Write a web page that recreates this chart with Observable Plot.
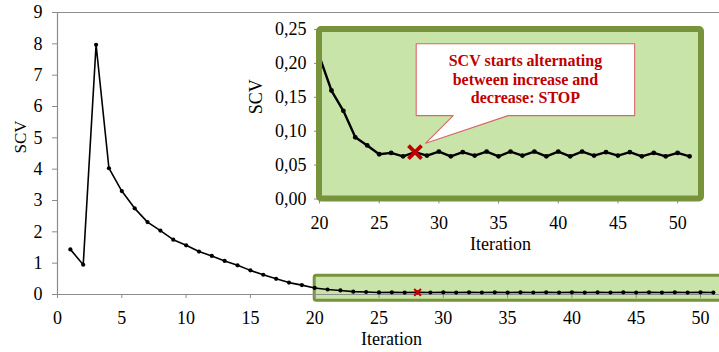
<!DOCTYPE html>
<html>
<head>
<meta charset="utf-8">
<script src="https://cdn.jsdelivr.net/npm/d3@7"></script>
<script src="https://cdn.jsdelivr.net/npm/@observablehq/plot@0.6"></script>
<style>
  html, body { margin: 0; padding: 0; background: #fff; overflow: hidden; }
  #wrap { position: relative; width: 719px; height: 352px; }
  #wrap svg { position: absolute; left: 0; top: 0; }
</style>
</head>
<body>
<div id="wrap"></div>
<script>
// ---- data ----
const iterations = [1,2,3,4,5,6,7,8,9,10,11,12,13,14,15,16,17,18,19,20,21,22,23,24,25,26,27,28,29,30,31,32,33,34,35,36,37,38,39,40,41,42,43,44,45,46,47,48,49,50,51];
const scv = [1.44,0.95,7.97,4.03,3.30,2.75,2.31,2.04,1.75,1.57,
             1.37,1.23,1.07,0.93,0.77,0.63,0.50,0.38,0.30,0.21,
             0.160,0.130,0.091,0.079,0.066,0.068,0.063,0.069,0.064,0.070,
             0.063,0.069,0.064,0.070,0.063,0.070,0.064,0.070,0.063,0.070,
             0.063,0.070,0.064,0.069,0.064,0.069,0.063,0.068,0.063,0.068,0.063];
const stopIteration = 28;
const mainXTicks = [0,5,10,15,20,25,30,35,40,45,50];
const mainYTicks = [0,1,2,3,4,5,6,7,8,9];
const insetXTicks = [20,25,30,35,40,45,50];
const insetYTicks = [0,0.05,0.10,0.15,0.20,0.25];
const insetRange = [20, 52];
const calloutLines = ["SCV starts alternating", "between increase and", "decrease: STOP"];

const data = iterations.map((it, i) => ({it, v: scv[i]}));
const insetData = data.filter(d => d.it >= insetRange[0]);
const stop = data.filter(d => d.it === stopIteration);

const gray = "#8c8c8c";
const greenFill = "#c8e4a8";
const greenStroke = "#77933c";
const red = "#c00000";
const font = "'Liberation Serif', 'Times New Roman', serif";

// ---- main chart ----
const main = Plot.plot({
  width: 719, height: 352,
  marginLeft: 57, marginRight: 0, marginTop: 12, marginBottom: 58,
  x: {domain: [0, 50], range: [57, 700]},
  y: {domain: [0, 9], range: [294, 12]},
  style: {fontFamily: font, fontSize: "18px", background: "transparent", color: "black"},
  marks: [
    Plot.rect([insetRange], {x1: d => d[0], x2: d => d[1], y1: -0.2, y2: 0.6,
      fill: greenFill, stroke: greenStroke, strokeWidth: 3, rx: 2}),
    Plot.ruleY([9], {stroke: gray, strokeWidth: 1.2}),
    Plot.ruleY([0], {stroke: gray, strokeWidth: 1.2}),
    Plot.ruleX([0], {stroke: gray, strokeWidth: 1.2}),
    Plot.axisY({ticks: mainYTicks, tickSize: 5, tickPadding: 10, stroke: gray, label: null, tickFormat: d => String(d)}),
    Plot.axisX({ticks: mainXTicks, tickSize: 4, tickPadding: 13, stroke: gray, label: null, tickFormat: d => String(d)}),
    Plot.line(data, {x: "it", y: "v", stroke: "black", strokeWidth: 1.6}),
    Plot.dot(data, {x: "it", y: "v", r: 2.1, fill: "black"}),
    Plot.dot(stop, {x: "it", y: "v", symbol: "times", r: 3.2, stroke: red, strokeWidth: 2}),
    Plot.text(["Iteration"], {frameAnchor: "bottom", lineAnchor: "middle", dx: 3, dy: 45, fontSize: 18}),
    Plot.text(["SCV"], {frameAnchor: "left", lineAnchor: "middle", dx: -37, rotate: -90, fontSize: 17})
  ]
});

// ---- inset chart ----
const calloutBox = {x1: 28.1, x2: 46.4, y1: 0.123, y2: 0.229, tailA: 31.2, tailB: 35.8, tipX: 28.9, tipY: 0.0823};
const calloutPoly = [
  [calloutBox.x1, calloutBox.y2], [calloutBox.x2, calloutBox.y2], [calloutBox.x2, calloutBox.y1],
  [calloutBox.tailB, calloutBox.y1], [calloutBox.tipX, calloutBox.tipY], [calloutBox.tailA, calloutBox.y1],
  [calloutBox.x1, calloutBox.y1], [calloutBox.x1, calloutBox.y2]
];
const fmt = d => d.toFixed(2).replace(".", ",");

const inset = Plot.plot({
  width: 719, height: 352,
  marginLeft: 319, marginRight: 18, marginTop: 29, marginBottom: 153.5,
  x: {domain: insetRange},
  y: {domain: [0, 0.25]},
  style: {fontFamily: font, fontSize: "18px", background: "transparent", color: "black"},
  marks: [
    Plot.rect([insetRange], {x1: d => d[0], x2: d => d[1], y1: 0, y2: 0.25, fill: greenFill}),
    Plot.axisY({ticks: insetYTicks, tickSize: 5, tickPadding: 8, stroke: gray, label: null, tickFormat: fmt}),
    Plot.axisX({ticks: insetXTicks, tickSize: 5, tickPadding: 12, stroke: gray, label: null, tickFormat: d => String(d)}),
    Plot.line(insetData, {x: "it", y: "v", stroke: "black", strokeWidth: 2.4}),
    Plot.dot(insetData, {x: "it", y: "v", r: 2.4, fill: "black"}),
    Plot.rect([insetRange], {x1: d => d[0], x2: d => d[1], y1: 0, y2: 0.25,
      fill: "none", stroke: greenStroke, strokeWidth: 6, rx: 2}),
    Plot.line(calloutPoly, {x: d => d[0], y: d => d[1], fill: "white", stroke: "#d9666a", strokeWidth: 1.1}),
    Plot.text([calloutLines.join("\n")], {
      x: (calloutBox.x1 + calloutBox.x2) / 2, y: (calloutBox.y1 + calloutBox.y2) / 2 + 0.0015,
      fill: red, fontWeight: "bold", fontSize: 16, lineHeight: 1.17}),
    Plot.dot(stop, {x: "it", y: "v", symbol: "times", r: 6, stroke: red, strokeWidth: 3.8}),
    Plot.text(["Iteration"], {frameAnchor: "bottom", lineAnchor: "middle", dx: -10, dy: 45, fontSize: 18}),
    Plot.text(["SCV"], {frameAnchor: "left", lineAnchor: "middle", dx: -63, rotate: -90, fontSize: 18})
  ]
});

const wrap = document.getElementById("wrap");
wrap.appendChild(main);
wrap.appendChild(inset);
</script>
</body>
</html>
